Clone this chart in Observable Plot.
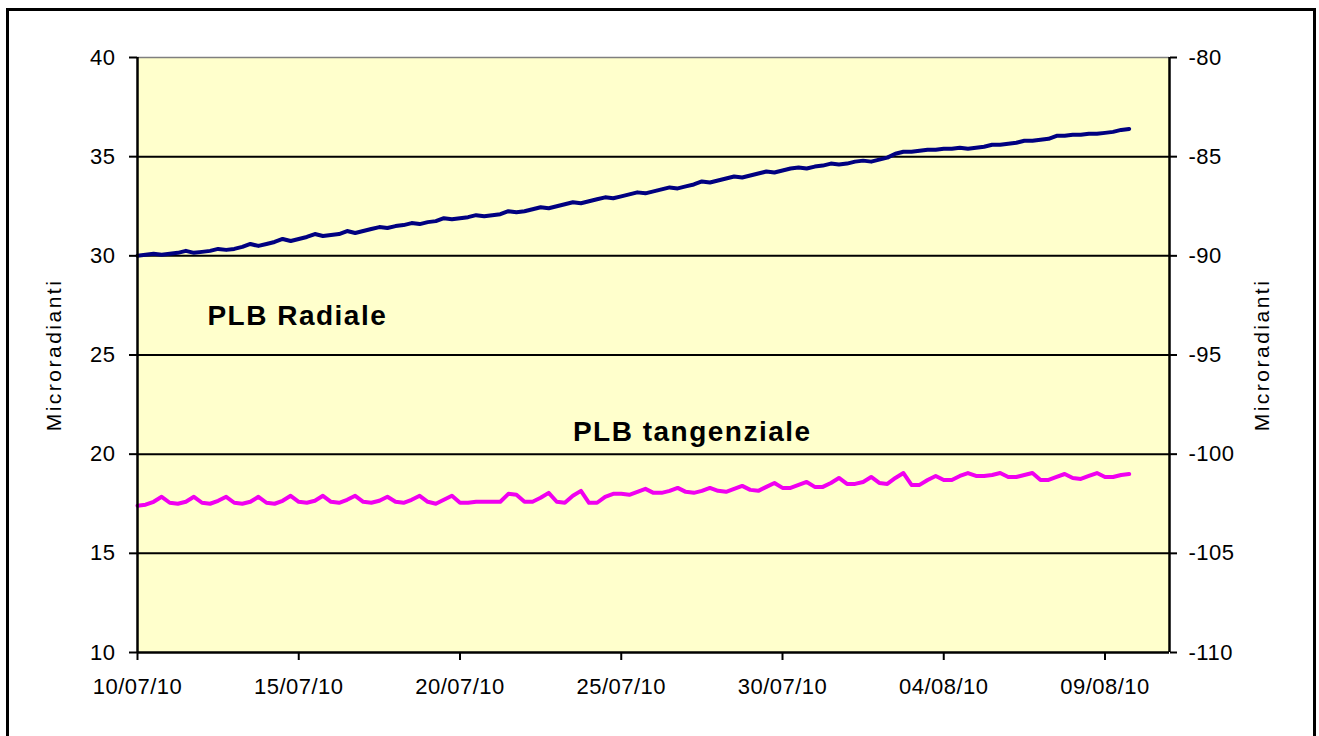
<!DOCTYPE html>
<html><head><meta charset="utf-8">
<script src="https://cdn.jsdelivr.net/npm/d3@7"></script>
<script src="https://cdn.jsdelivr.net/npm/@observablehq/plot@0.6"></script>
<style>
body{margin:0;background:#fff;overflow:hidden;}
#wrap{position:relative;width:1319px;height:736px;}
#border{position:absolute;left:6px;top:8px;width:1310px;height:745px;border:3px solid #000;box-sizing:border-box;pointer-events:none;}
#chart{position:absolute;left:0;top:0;}
</style></head><body>
<div id="wrap"><div id="chart"></div><div id="border"></div></div>
<script>
// ---- data ----
const seriesNames = ["PLB Radiale", "PLB tangenziale"];
const seriesColors = ["#000080", "#f000f0"];
const startDate = "2010-07-10T00:00Z";
const stepHours = 6;
// readings every 6 hours (left axis units, microradianti)
const radialValues = [
  30.00,30.05,30.10,30.05, 30.10,30.15,30.25,30.15, 30.20,30.25,30.35,30.30, 30.35,30.45,30.60,30.50,
  30.60,30.70,30.85,30.75, 30.85,30.95,31.10,31.00, 31.05,31.10,31.25,31.15, 31.25,31.35,31.45,31.40,
  31.50,31.55,31.65,31.60, 31.70,31.75,31.90,31.85, 31.90,31.95,32.05,32.00, 32.05,32.10,32.25,32.20,
  32.25,32.35,32.45,32.40, 32.50,32.60,32.70,32.65, 32.75,32.85,32.95,32.90, 33.00,33.10,33.20,33.15,
  33.25,33.35,33.45,33.40, 33.50,33.60,33.75,33.70, 33.80,33.90,34.00,33.95, 34.05,34.15,34.25,34.20,
  34.30,34.40,34.45,34.40, 34.50,34.55,34.65,34.60, 34.65,34.75,34.80,34.75, 34.85,34.95,35.15,35.25,
  35.25,35.30,35.35,35.35, 35.40,35.40,35.45,35.40, 35.45,35.50,35.60,35.60, 35.65,35.70,35.80,35.80,
  35.85,35.90,36.05,36.05, 36.10,36.10,36.15,36.15, 36.20,36.25,36.35,36.40
];
const tangentialValues = [
  17.40,17.45,17.60,17.85, 17.55,17.50,17.60,17.85, 17.55,17.50,17.65,17.85, 17.55,17.50,17.60,17.85,
  17.55,17.50,17.65,17.90, 17.60,17.55,17.65,17.90, 17.60,17.55,17.70,17.90, 17.60,17.55,17.65,17.85,
  17.60,17.55,17.70,17.90, 17.60,17.50,17.70,17.90, 17.55,17.55,17.60,17.60, 17.60,17.60,18.00,17.95,
  17.60,17.60,17.80,18.05, 17.60,17.55,17.90,18.15, 17.55,17.55,17.85,18.00, 18.00,17.95,18.10,18.25,
  18.05,18.05,18.15,18.30, 18.10,18.05,18.15,18.30, 18.15,18.10,18.25,18.40, 18.20,18.15,18.35,18.55,
  18.30,18.30,18.45,18.60, 18.35,18.35,18.55,18.80, 18.50,18.50,18.60,18.85, 18.55,18.50,18.80,19.05,
  18.45,18.45,18.70,18.90, 18.70,18.70,18.90,19.05, 18.90,18.90,18.95,19.05, 18.85,18.85,18.95,19.05,
  18.70,18.70,18.85,19.00, 18.80,18.75,18.90,19.05, 18.85,18.85,18.95,19.00
];
const leftTicks = [10, 15, 20, 25, 30, 35, 40];
const rightTickLabels = ["-110", "-105", "-100", "-95", "-90", "-85", "-80"];
const gridValues = [15, 20, 25, 30, 35];
const xTicks = ["2010-07-10", "2010-07-15", "2010-07-20", "2010-07-25", "2010-07-30", "2010-08-04", "2010-08-09"];
const xDomain = ["2010-07-10", "2010-08-11"];
const annotations = [
  {label: "PLB Radiale", date: "2010-07-12T04:00Z", value: 26.96},
  {label: "PLB tangenziale", date: "2010-07-23T12:00Z", value: 21.14}
];
const axisTitle = "Microradianti";

// ---- build table ----
const t0 = new Date(startDate).getTime();
const rows = [];
radialValues.forEach((v, i) => rows.push({series: seriesNames[0], date: new Date(t0 + i * stepHours * 3600e3), value: v}));
tangentialValues.forEach((v, i) => rows.push({series: seriesNames[1], date: new Date(t0 + i * stepHours * 3600e3), value: v}));
const rightMap = new Map(leftTicks.map((t, i) => [t, rightTickLabels[i]]));
const font = "'Liberation Sans', Arial, Helvetica, sans-serif";

const chart = Plot.plot({
  width: 1319, height: 736,
  marginLeft: 137, marginRight: 150, marginTop: 57, marginBottom: 84,
  style: {background: "transparent", fontFamily: font, fontSize: "22px", color: "#000"},
  x: {type: "utc", domain: xDomain.map(d => new Date(d))},
  y: {domain: [10, 40]},
  color: {domain: seriesNames, range: seriesColors},
  marks: [
    Plot.frame({fill: "#FFFFCC", stroke: "none"}),
    Plot.ruleY([40], {stroke: "#7f7f7f", strokeWidth: 1.5}),
    Plot.ruleY(gridValues, {stroke: "#000", strokeWidth: 2}),
    Plot.line(rows, {x: "date", y: "value", z: "series", stroke: "series", strokeWidth: 4, strokeLinejoin: "round"}),
    Plot.ruleY([10], {stroke: "#000", strokeWidth: 2.5}),
    Plot.ruleX([new Date(xDomain[0])], {stroke: "#000", strokeWidth: 2.5}),
    Plot.ruleX([new Date(xDomain[1])], {stroke: "#000", strokeWidth: 2.5}),
    Plot.axisY({anchor: "left", ticks: leftTicks, tickSize: 8, tickPadding: 14, strokeWidth: 2, label: null, tickFormat: d => String(d)}),
    Plot.axisY({anchor: "right", ticks: leftTicks, tickSize: 7, tickPadding: 12, strokeWidth: 2, label: null, tickFormat: d => rightMap.get(d)}),
    Plot.axisX({ticks: xTicks.map(d => new Date(d)), tickFormat: d3.utcFormat("%d/%m/%y"), tickSize: 8, tickPadding: 18, strokeWidth: 2, label: null}),
    Plot.text(annotations, {x: d => new Date(d.date), y: "value", text: "label", textAnchor: "start", lineAnchor: "middle", fontWeight: "bold", fontSize: 28, fill: "#000"}),
    Plot.text([axisTitle], {text: d => d, frameAnchor: "left", textAnchor: "middle", lineAnchor: "middle", dx: -83, rotate: -90, fontSize: 21, fill: "#000"}),
    Plot.text([axisTitle], {text: d => d, frameAnchor: "right", textAnchor: "middle", lineAnchor: "middle", dx: 93, rotate: -90, fontSize: 21, fill: "#000"})
  ]
});
document.getElementById("chart").appendChild(chart);
d3.select(chart).selectAll("text").each(function() {
  const t = this.textContent || "";
  let ls = "0.5px";
  if (t.startsWith("PLB")) ls = "1.5px";
  else if (t === axisTitle) ls = "2.5px";
  this.setAttribute("letter-spacing", ls);
});
</script>
</body></html>
